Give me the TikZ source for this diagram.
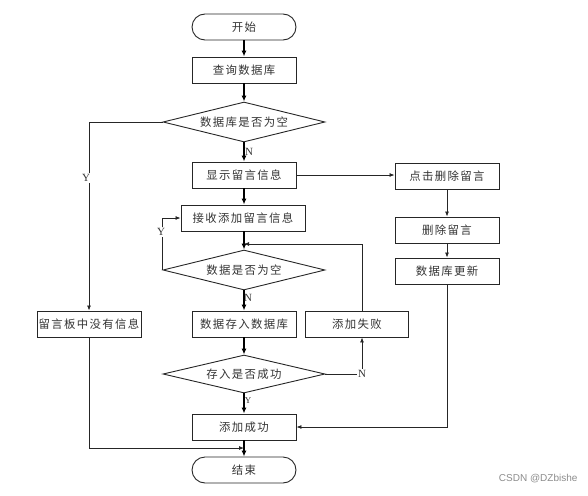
\documentclass[tikz,border=0pt]{standalone}
\usepackage{fontspec}
\setmainfont{Liberation Serif}
\newfontfamily\cjk{Noto Sans CJK SC}[Scale=0.95,LetterSpace=12]
\newfontfamily\wmfont{Liberation Sans}
\usetikzlibrary{shapes.geometric,arrows.meta}
\begin{document}
\begin{tikzpicture}[x=1pt,y=-1pt,
  every node/.style={font=\cjk\fontsize{12}{14}\selectfont, text=black!80},
  proc/.style={draw=black!85, line width=0.9pt, minimum width=104pt, minimum height=26pt, inner sep=0pt},
  term/.style={proc, rounded corners=13pt},
  dec/.style={draw=black!85, line width=0.9pt, diamond, aspect=4, minimum width=162pt, minimum height=40pt, inner sep=0pt},
  thick arr/.style={line width=1.8pt, -{Latex[length=6pt,width=5pt]}},
  thin arr/.style={line width=0.8pt, black!85, -{Latex[length=5pt,width=4pt]}},
  lab/.style={font=\fontsize{11}{13}\selectfont, inner sep=1pt, fill=white}
]
\useasboundingbox (0,0) rectangle (588,495);
\node[term] (start) at (244,27) {开始};
\node[proc] (q) at (244,70) {查询数据库};
\node[dec] (d1) at (244,122) {数据库是否为空};
\node[proc] (show) at (244,175) {显示留言信息};
\node[proc, minimum width=124pt] (recv) at (243,218) {接收添加留言信息};
\node[dec] (d2) at (244,270) {数据是否为空};
\node[proc] (store) at (244,324) {数据存入数据库};
\node[proc, minimum width=103pt] (fail) at (357,324) {添加失败};
\node[dec, minimum height=38pt] (d3) at (244,374) {存入是否成功};
\node[proc] (succ) at (244,427) {添加成功};
\node[term] (end) at (244,470) {结束};
\node[proc] (nomsg) at (89,324) {留言板中没有信息};
\node[proc] (click) at (447,176) {点击删除留言};
\node[proc] (del) at (447,230) {删除留言};
\node[proc] (upd) at (447,271) {数据库更新};
\coordinate (j1) at (244,448);
\coordinate (j2) at (244,244);
\coordinate (c3) at (362,374);
% main vertical flow
\draw[thick arr] (start) -- (q);
\draw[thick arr] (q) -- (d1);
\draw[thick arr] (d1) -- (show);
\draw[thick arr] (show) -- (recv.north -| show.south);
\draw[thick arr] (recv.south -| d2.north) -- (d2);
\draw[thick arr] (d2) -- (store);
\draw[thick arr] (store) -- (d3);
\draw[thick arr] (d3) -- (succ);
\draw[thick arr] (succ) -- (end);
\node[lab, fill=none] at (249,152) {N};
\node[lab, fill=none] at (248,298) {N};
\node[lab, fill=none, font=\fontsize{9}{10}\selectfont] at (248,401) {Y};
% left branch
\draw[thin arr] (d1.west) -| (nomsg.north);
\node[lab] at (86,178) {Y};
\draw[thin arr] (nomsg.south) |- (j1);
% Y loop
\draw[thin arr] (d2.west) |- (recv.west);
\node[lab] at (161,232) {Y};
% fail loop
\draw[thin arr] (fail.north -| c3) |- (j2);
\draw[thin arr] (d3.east) -| (fail.south -| c3);
\node[lab] at (c3) {N};
% right branch
\draw[thin arr] (show.east) -- (show.east -| click.west);
\draw[thin arr] (click) -- (del);
\draw[thin arr] (del) -- (upd);
\draw[thin arr] (upd.south) |- (succ.east);
% watermark
\node[font=\wmfont\fontsize{10}{12}\selectfont, text=black!45, anchor=east] (wm) at (581,479) {CSDN @DZbishe};
\end{tikzpicture}
\end{document}
